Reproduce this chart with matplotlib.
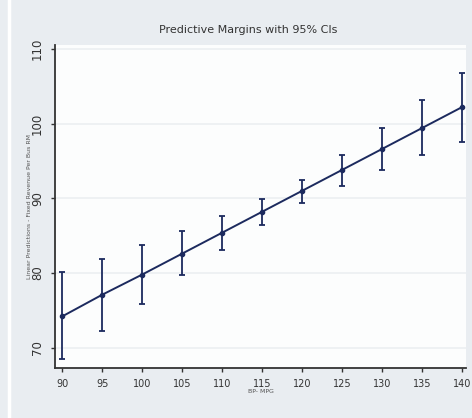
import matplotlib.pyplot as plt
import numpy as np
from matplotlib.lines import Line2D

# valores
bp_mpg = [90, 95, 100, 105, 110, 115, 120, 125, 130, 135, 140]
margen = [74.2, 77.1, 79.8, 82.6, 85.4, 88.2, 91.0, 93.8, 96.6, 99.4, 102.2]
ic_sup = [80.2, 81.9, 83.7, 85.6, 87.6, 89.9, 92.5, 95.8, 99.4, 103.2, 106.7]
ic_inf = [68.5, 72.2, 75.9, 79.7, 83.1, 86.4, 89.4, 91.7, 93.8, 95.8, 97.5]
y_ticks = [70, 80, 90, 100, 110]

navy = '#1c2a5e'
fondo = '#e9edf1'

fig = plt.figure(figsize=(4.72, 4.18), dpi=100)
fig.patch.set_facecolor(fondo)
ax = fig.add_axes([0.1165, 0.1196, 0.871, 0.7727])
ax.set_facecolor('#fcfdfd')

m = np.array(margen)
yerr = [m - np.array(ic_inf), np.array(ic_sup) - m]
ax.errorbar(bp_mpg, margen, yerr=yerr, color=navy, ecolor=navy, lw=1.4,
            elinewidth=1.3, capsize=2.5, capthick=1.3, marker='o', ms=3,
            zorder=3)

ax.set_xlim(89.1, 140.5)
ax.set_ylim(67.3, 110.5)
ax.set_xticks(bp_mpg)
ax.set_yticks(y_ticks)
ax.tick_params(axis='x', labelsize=7, length=3, width=1, color='#333333',
               labelcolor='#333333', pad=5)
ax.tick_params(axis='y', labelsize=8.5, length=3, width=1, color='#333333',
               labelcolor='#333333', pad=5, labelrotation=90)
for lbl in ax.get_yticklabels():
    lbl.set_va('center')

ax.grid(axis='y', color='#eceff2', lw=1.2)
ax.set_axisbelow(True)
for s in ['top', 'right']:
    ax.spines[s].set_visible(False)
for s in ['left', 'bottom']:
    ax.spines[s].set_color('#333333')
    ax.spines[s].set_linewidth(1.3)

ax.set_title('Predictive Margins with 95% CIs', x=0.47, fontsize=8,
             color='#333333', pad=9)
ax.set_xlabel('BP- MPG', fontsize=4.5, color='#555555', labelpad=0)
ax.set_ylabel('Linear Predictions - Fixed Revenue Per Bus RM', fontsize=4.5,
              color='#555555', labelpad=-1)

fig.add_artist(Line2D([0.02, 0.02], [0, 1], transform=fig.transFigure,
                      color='white', lw=2.5))

fig.savefig('out.png', dpi=100, facecolor=fig.get_facecolor())
